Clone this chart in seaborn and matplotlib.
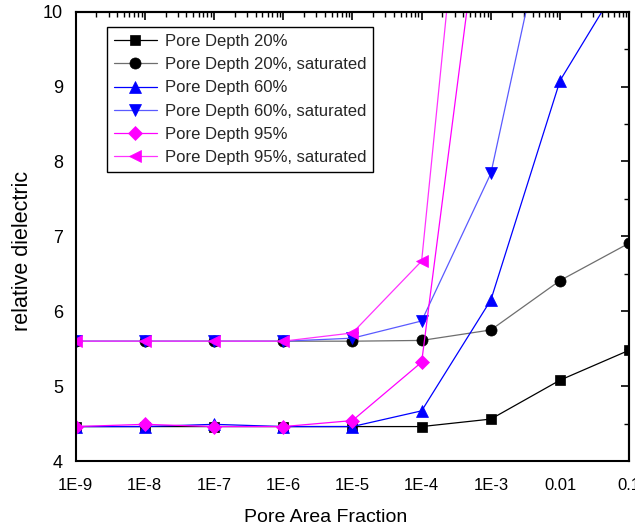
import numpy as np
import pandas as pd
import matplotlib
matplotlib.use("Agg")
import matplotlib.pyplot as plt
import seaborn as sns
from matplotlib.ticker import FixedLocator, FixedFormatter, LogLocator, MultipleLocator, NullFormatter

# ---- data ----
x_vals = [1e-9, 1e-8, 1e-7, 1e-6, 1e-5, 1e-4, 1e-3, 1e-2, 1e-1]
pd20 = [4.46, 4.46, 4.46, 4.46, 4.46, 4.46, 4.56, 5.08, 5.48]
pd20_sat = [5.60, 5.60, 5.60, 5.60, 5.60, 5.61, 5.75, 6.41, 6.91]
pd60 = [4.46, 4.46, 4.49, 4.46, 4.46, 4.67, 6.15, 9.08, 10.6]
pd60_sat = [5.60, 5.60, 5.60, 5.60, 5.64, 5.87, 7.84, 12.1]
pd95 = [4.46, 4.49, 4.46, 4.46, 4.54, 5.32, 12.5]
pd95_sat = [5.60, 5.60, 5.60, 5.60, 5.71, 6.67, 15.9]

x_ticks = [1e-9, 1e-8, 1e-7, 1e-6, 1e-5, 1e-4, 1e-3, 1e-2, 1e-1]
x_ticklabels = ["1E-9", "1E-8", "1E-7", "1E-6", "1E-5", "1E-4", "1E-3", "0.01", "0.1"]
y_ticks = [4, 5, 6, 7, 8, 9, 10]

series = [
    ("Pore Depth 20%", pd20, "s", "black", "black"),
    ("Pore Depth 20%, saturated", pd20_sat, "o", "#6e6e6e", "black"),
    ("Pore Depth 60%", pd60, "^", "#0000ff", "#0000ff"),
    ("Pore Depth 60%, saturated", pd60_sat, "v", "#5a5aff", "#0000ff"),
    ("Pore Depth 95%", pd95, "D", "#ff00ff", "#ff00ff"),
    ("Pore Depth 95%, saturated", pd95_sat, "<", "#ff33ff", "#ff00ff"),
]

sns.set_theme(style="white")
plt.rcParams["font.family"] = ["Liberation Sans", "DejaVu Sans"]

fig = plt.figure(figsize=(6.35, 5.29), dpi=100)
ax = fig.add_axes([0.119, 0.1285, 0.872, 0.8495])

msize = {"s": 7, "o": 8, "^": 8.5, "v": 8.5, "D": 7, "<": 8.5}
for label, vals, mk, lc, mc in series:
    df = pd.DataFrame({"x": x_vals[:len(vals)], "y": vals})
    sns.lineplot(data=df, x="x", y="y", ax=ax, color=lc, lw=0.9, marker=mk,
                 markersize=msize[mk], markerfacecolor=mc, markeredgecolor=mc,
                 markeredgewidth=0.5, label=label, sort=False)

ax.set_xscale("log")
ax.set_xlim(1e-9, 1e-1)
ax.set_ylim(4, 10)

ax.xaxis.set_major_locator(FixedLocator(x_ticks))
ax.xaxis.set_major_formatter(FixedFormatter(x_ticklabels))
ax.xaxis.set_minor_locator(LogLocator(base=10, subs=np.arange(2, 10), numticks=20))
ax.xaxis.set_minor_formatter(NullFormatter())
ax.yaxis.set_major_locator(FixedLocator(y_ticks))
ax.yaxis.set_minor_locator(MultipleLocator(0.5))

ax.tick_params(axis="both", which="major", direction="out", length=6, width=1.2,
               color="black", labelcolor="black")
ax.tick_params(axis="x", which="major", labelsize=12, pad=6)
ax.tick_params(axis="y", which="major", labelsize=13, pad=3)
ax.tick_params(axis="both", which="minor", direction="out", length=3.5, width=1.0,
               color="black")

for s in ax.spines.values():
    s.set_color("black")
    s.set_linewidth(1.5)

# mirrored inward ticks on top and right
top = ax.secondary_xaxis("top")
top.xaxis.set_major_locator(FixedLocator(x_ticks))
top.xaxis.set_minor_locator(LogLocator(base=10, subs=np.arange(2, 10), numticks=20))
top.xaxis.set_major_formatter(NullFormatter())
top.xaxis.set_minor_formatter(NullFormatter())
top.tick_params(which="major", direction="in", length=6, width=1.2, color="black")
top.tick_params(which="minor", direction="in", length=3.5, width=1.0, color="black")
top.spines["top"].set_linewidth(1.5)

right = ax.secondary_yaxis("right")
right.yaxis.set_major_locator(FixedLocator(y_ticks))
right.yaxis.set_minor_locator(MultipleLocator(0.5))
right.yaxis.set_major_formatter(NullFormatter())
right.tick_params(which="major", direction="in", length=6, width=1.2, color="black")
right.tick_params(which="minor", direction="in", length=3.5, width=1.0, color="black")
right.spines["right"].set_linewidth(1.5)

ax.set_xlabel("Pore Area Fraction", fontsize=14, color="black")
ax.xaxis.set_label_coords(0.452, -0.106)
ax.set_ylabel("relative dielectric", fontsize=15.5, color="black")
ax.yaxis.set_label_coords(-0.076, 0.467)

leg = ax.legend(loc="upper left", bbox_to_anchor=(0.057, 0.965), fontsize=12,
                frameon=True, fancybox=False, framealpha=1, edgecolor="black",
                handlelength=2.6, handletextpad=0.45, labelspacing=0.49,
                borderpad=0.4, borderaxespad=0)
leg.get_frame().set_linewidth(1.0)

fig.savefig("out.png", dpi=100)
